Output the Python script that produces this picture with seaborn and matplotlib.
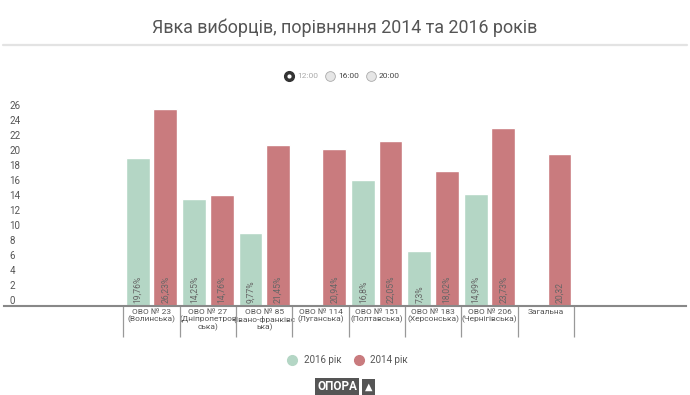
import numpy as np
import pandas as pd
import seaborn as sns
import matplotlib.pyplot as plt
from matplotlib.lines import Line2D

sns.set_style("white")
plt.rcParams['font.family'] = ['Roboto', 'DejaVu Sans']

# %% Data

districts = [
    'ОВО № 23\n(Волинська)',
    'ОВО № 27\n(Дніпропетров\nська)',
    'ОВО № 85\n(Івано-франківс\nька)',
    'ОВО № 114\n(Луганська)',
    'ОВО № 151\n(Полтавська)',
    'ОВО № 183\n(Херсонська)',
    'ОВО № 206\n(Чернігівська)',
    'Загальна',
]
turnout_2016 = [19.76, 14.25, 9.77, np.nan, 16.8, 7.3, 14.99, np.nan]
turnout_2014 = [26.23, 14.76, 21.45, 20.94, 22.05, 18.02, 23.73, 20.32]
labels_2016 = ['19,76%', '14,25%', '9,77%', '', '16,8%', '7,3%', '14,99%', '']
labels_2014 = ['26,23%', '14,76%', '21,45%', '20,94%', '22,05%', '18,02%', '23,73%', '20,32']
series = ['2016 рік', '2014 рік']
colors = {'2016 рік': '#b4d6c5', '2014 рік': '#c97b7e'}
y_ticks = list(range(0, 27, 2))

data = pd.DataFrame({
    'District': districts * 2,
    'Year': [series[0]] * len(districts) + [series[1]] * len(districts),
    'Turnout': turnout_2016 + turnout_2014,
    'Label': labels_2016 + labels_2014,
}).dropna(subset=['Turnout'])

# %% Plot

fig = plt.figure(figsize=(6.9, 3.95), dpi=100)
ax = fig.add_axes([4 / 690, 89 / 395, 682 / 690, 210 / 395])

sns.barplot(
    data=data, x='District', y='Turnout', hue='Year',
    order=districts, hue_order=series, palette=colors, saturation=1,
    width=0.98, gap=0.14, legend=False, ax=ax,
)

# value labels at the bottom of every bar
for container, year in zip(ax.containers, series):
    sub = data[data.Year == year].set_index('District')
    for patch in container:
        cx = patch.get_x() + patch.get_width() / 2
        lab = sub.loc[districts[int(round(cx))], 'Label']
        ax.text(cx, 0.4, lab, rotation=90, ha='center', va='bottom',
                fontsize=6.2, color='#666666')

ax.set_xlim(-2.62, len(districts) + 1.49)
ax.set_ylim(0, 28)
ax.set_xlabel('')
ax.set_ylabel('')
ax.set_yticks(y_ticks)
ax.set_yticklabels([str(t) for t in y_ticks], ha='left', va='bottom')
ax.tick_params(axis='y', length=0, pad=-4, labelsize=7, labelcolor='#555555')
ax.tick_params(axis='x', length=0, pad=2, labelsize=6.0, labelcolor='#555555')
for lab in ax.get_xticklabels():
    lab.set_linespacing(1.05)
sns.despine(ax=ax, left=True)
ax.spines['bottom'].set_color('#888888')
ax.spines['bottom'].set_linewidth(1.5)

# category separators below the axis
bounds = np.arange(len(districts) + 1) - 0.5
ax.vlines(bounds, -0.148, 0, transform=ax.get_xaxis_transform(),
          colors='#999999', lw=0.9, clip_on=False)

# title and rule
fig.text(0.5, 1 - 28 / 395, 'Явка виборців, порівняння 2014 та 2016 років',
         ha='center', va='center', fontsize=12.9, color='#555555')
fig.add_artist(Line2D([3 / 690, 687 / 690], [1 - 45 / 395] * 2,
                      transform=fig.transFigure, color='#e3e3e3', lw=1.6))

# time selector
times = ['12:00', '16:00', '20:00']
for i, t in enumerate(times):
    x = (289 + 41 * i) / 690
    y = 1 - 76 / 395
    if i == 0:
        fig.add_artist(Line2D([x], [y], marker='o', ms=7, color='#333333',
                              transform=fig.transFigure))
        fig.add_artist(Line2D([x], [y], marker='o', ms=2, color='white',
                              transform=fig.transFigure))
    else:
        fig.add_artist(Line2D([x], [y], marker='o', ms=7, mfc='#e6e6e6',
                              mec='#aaaaaa', mew=0.6, transform=fig.transFigure))
    fig.text(x + 8 / 690, y, t, ha='left', va='center', fontsize=6,
             color='#aaaaaa' if i == 0 else '#444444')

# legend
handles = [Line2D([], [], marker='o', ls='', ms=7, color=colors[s]) for s in series]
fig.legend(handles, series, loc='center', bbox_to_anchor=(0.5, 1 - 360 / 395),
           ncol=2, frameon=False, fontsize=7, labelcolor='#555555',
           handletextpad=0.2, columnspacing=0.8)

# logo
fig.text(337 / 690, 1 - 387 / 395, 'ОПОРА', ha='center', va='center',
         fontsize=8.5, fontweight='bold', color='white',
         bbox=dict(boxstyle='square,pad=0.2', fc='#555555', ec='none'))
fig.text(368.5 / 690, 1 - 387 / 395, '▲', ha='center', va='center',
         fontsize=7, color='white', family=['DejaVu Sans'],
         bbox=dict(boxstyle='square,pad=0.3', fc='#555555', ec='none'))

plt.savefig('out.png', dpi=100)
